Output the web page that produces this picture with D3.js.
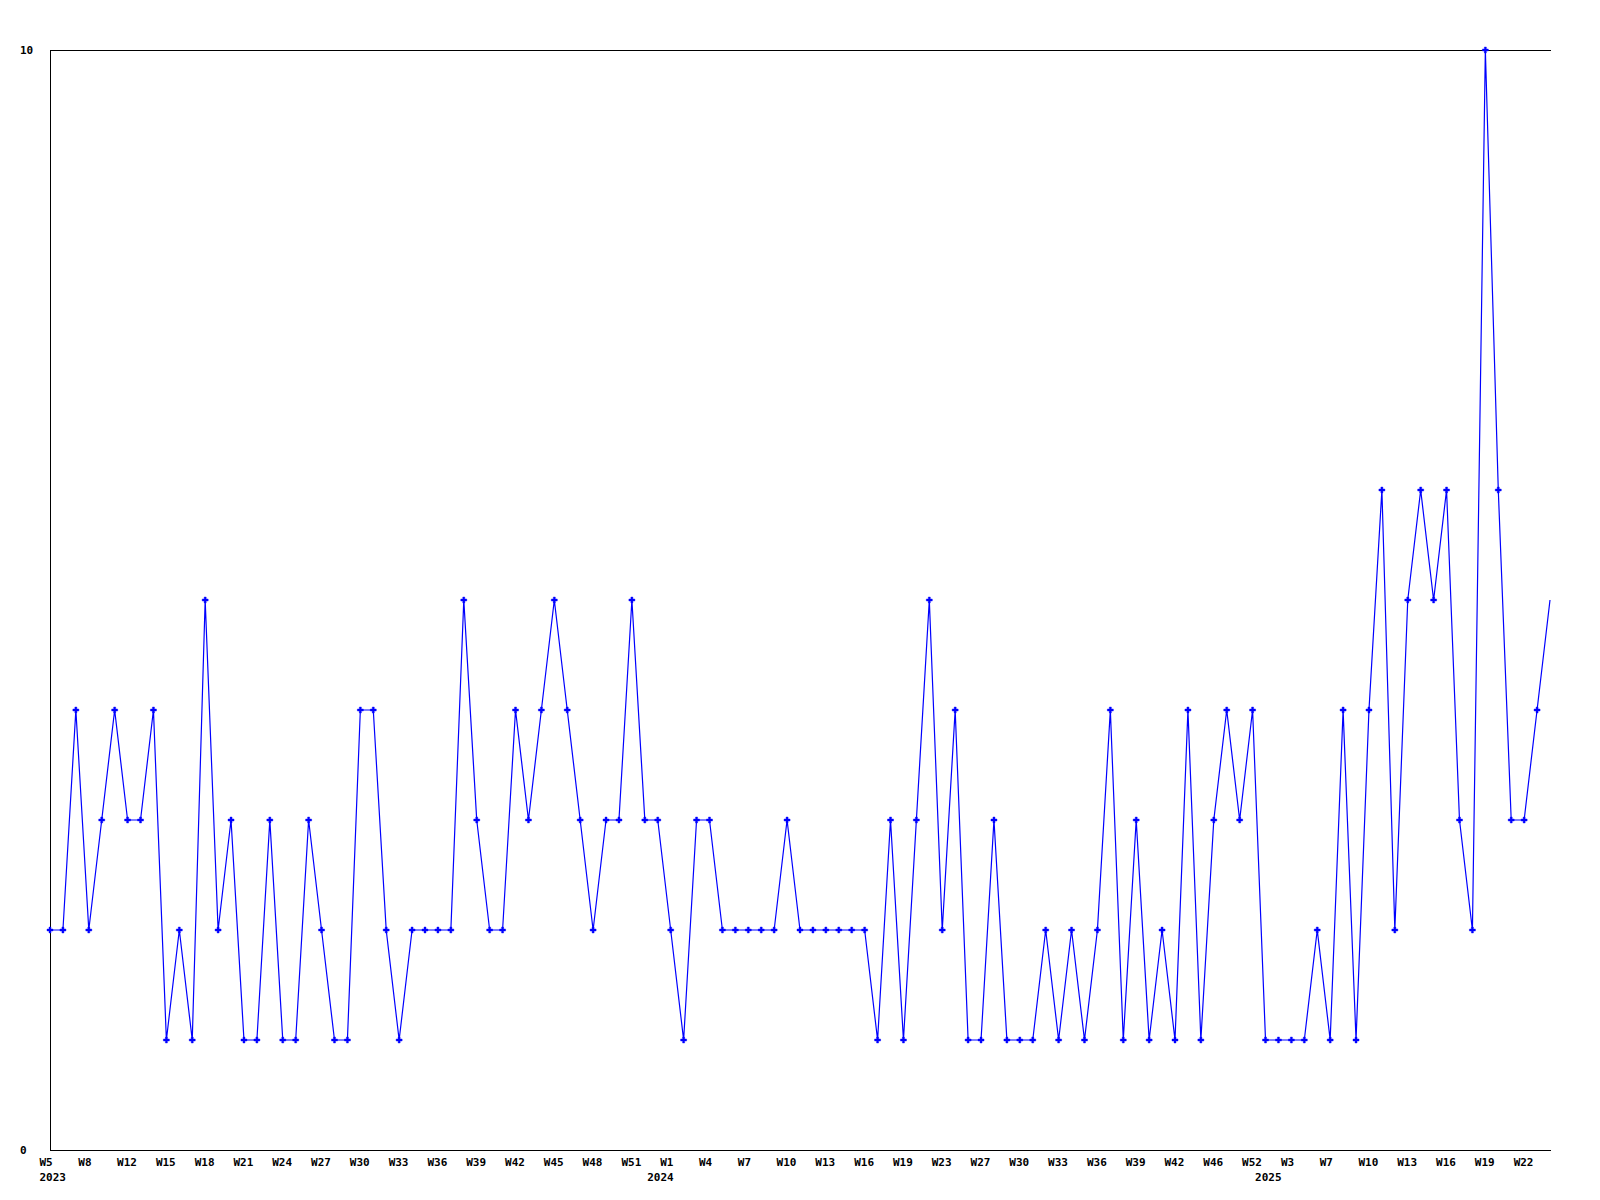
<!DOCTYPE html>
<html>
<head>
<meta charset="utf-8">
<script src="https://cdn.jsdelivr.net/npm/d3@7"></script>
<style>
  body { margin: 0; background: #fff; }
  text { font-family: "DejaVu Sans Mono", monospace; font-weight: bold; font-size: 11px; fill: #000; }
</style>
</head>
<body>
<svg id="chart" width="1600" height="1200"></svg>
<script>
// ---- data ----
const values = [
  2,2,4,2,3,4,3,3,4,1, 2,1,5,2,3,1,1,3,1,1, 3,2,1,1,4,4,2,1,2,2,
  2,2,5,3,2,2,4,3,4,5, 4,3,2,3,3,5,3,3,2,1, 3,3,2,2,2,2,2,3,2,2,
  2,2,2,2,1,3,1,3,5,2, 4,1,1,3,1,1,1,2,1,2, 1,2,4,1,3,1,2,1,4,1,
  3,4,3,4,1,1,1,1,2,1, 4,1,4,6,2,5,6,5,6,3, 2,10,6,3,3,4,5
];
const weekLabels = [
  "W5","W8","W12","W15","W18","W21","W24","W27","W30","W33","W36","W39","W42","W45","W48","W51",
  "W1","W4","W7","W10","W13","W16","W19","W23","W27","W30","W33","W36","W39","W42","W46","W52",
  "W3","W7","W10","W13","W16","W19","W22"
];
const weekLabelStep = 3;
const yearLabels = ["2023","2024","2025"];
const yearIndices = [0, 47, 94];
const yTickValues = [0, 10];

// ---- layout ----
const plotLeft = 50, plotRight = 1550, plotTop = 50, plotBottom = 1150;
const svg = d3.select("#chart");

const x = d3.scaleLinear().domain([0, values.length - 1]).range([plotLeft, plotRight]);
const y = d3.scaleLinear().domain([0, 10]).range([plotBottom, plotTop]);

// frame: top, left, bottom
svg.append("line").attr("x1", plotLeft).attr("x2", plotRight + 1).attr("y1", plotTop + 0.5).attr("y2", plotTop + 0.5)
  .attr("stroke", "#000").attr("stroke-width", 1).attr("shape-rendering", "crispEdges");
svg.append("line").attr("x1", plotLeft + 0.5).attr("x2", plotLeft + 0.5).attr("y1", plotTop).attr("y2", plotBottom + 1)
  .attr("stroke", "#000").attr("stroke-width", 1).attr("shape-rendering", "crispEdges");
svg.append("line").attr("x1", plotLeft).attr("x2", plotRight + 1).attr("y1", plotBottom + 0.5).attr("y2", plotBottom + 0.5)
  .attr("stroke", "#000").attr("stroke-width", 1).attr("shape-rendering", "crispEdges");

// y labels
svg.selectAll("text.ylab").data(yTickValues).enter().append("text")
  .attr("class", "ylab")
  .attr("x", 20)
  .attr("y", d => y(d) + 4)
  .text(d => d);

// x week labels
svg.selectAll("text.xlab").data(weekLabels).enter().append("text")
  .attr("class", "xlab")
  .attr("x", (d, i) => x(i * weekLabelStep) - 10.5)
  .attr("y", 1166)
  .text(d => d);

// year labels
svg.selectAll("text.year").data(yearLabels).enter().append("text")
  .attr("class", "year")
  .attr("x", (d, i) => x(yearIndices[i]) - 10.5)
  .attr("y", 1181)
  .text(d => d);

// line
const line = d3.line().x((d, i) => x(i)).y(d => y(d));
svg.append("path")
  .datum(values)
  .attr("d", line)
  .attr("fill", "none")
  .attr("stroke", "#0000ff")
  .attr("stroke-width", 1.2);

// markers
svg.selectAll("path.mk").data(values.slice(0, values.length - 1)).enter().append("path")
  .attr("class", "mk")
  .attr("d", d3.symbol().type(d3.symbolCross).size(20))
  .attr("transform", (d, i) => `translate(${x(i)},${y(d)})`)
  .attr("fill", "#0000ff")
  .attr("stroke", "#0000ff")
  .attr("stroke-width", 0.4);
</script>
</body>
</html>
